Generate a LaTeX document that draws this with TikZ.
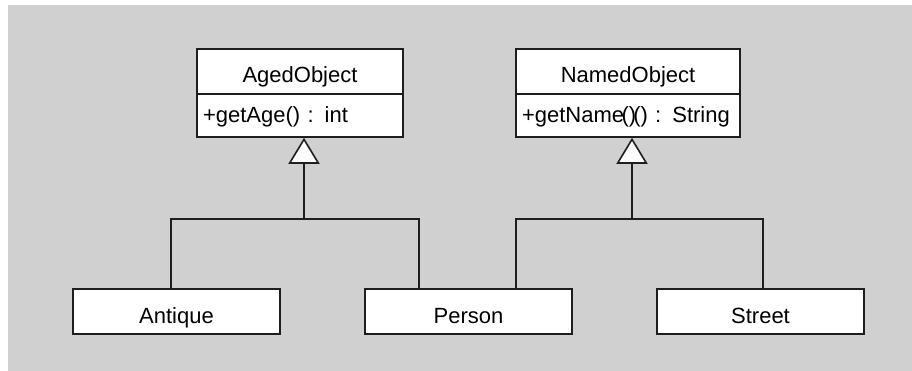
\documentclass[tikz,border=0pt]{standalone}
\usepackage{fontspec}
\setmainfont{Liberation Sans}
\usetikzlibrary{arrows.meta,calc}
\definecolor{canvas}{HTML}{D0D0D0}
\definecolor{ink}{HTML}{1E1E1E}
\tikzset{
  classbox/.style={draw=ink, line width=1.6pt, fill=white, inner sep=0pt,
    font=\fontsize{22}{24}\selectfont},
  classname/.style={classbox, minimum height=45pt, text height=23pt, text depth=0pt},
  classattr/.style={classbox, minimum height=43pt, align=left, inner xsep=6pt,
    text height=16pt, text depth=1pt},
  leafclass/.style={classname, minimum width=207pt},
  link/.style={draw=ink, line width=1.6pt},
  inherit/.style={link, -{Triangle[open, fill=white, length=26pt, width=31pt, line width=1.6pt]}}
}
\begin{document}
\begin{tikzpicture}[x=1pt, y=-1pt]
  % page and canvas
  \fill[white] (0,0) rectangle (912,371);
  \fill[canvas] (8,5) rectangle (912,371);
  \useasboundingbox (0,0) rectangle (912,371);

  % parent classes
  \node[classname, minimum width=206pt] (aged) at (300,71.5) {AgedObject};
  \node[classattr, text width=194pt] (agedattr) at (300,115.5) {+getAge() : int};
  \node[classname, minimum width=224pt] (named) at (628,71.5) {NamedObject};
  \node[classattr, text width=212pt] (namedattr) at (628,115.5)
    {+getName\kern-2.5pt()\kern-3pt() : String};

  % child classes
  \node[leafclass] (antique) at (176.5,311.5) {Antique};
  \node[leafclass] (person) at (468.5,311.5) {Person};
  \node[leafclass] (street) at (760.5,311.5) {Street};

  % junctions of the generalisation trees
  \coordinate (agedjoin) at (304,219);
  \coordinate (namedjoin) at (632,219);

  % branches from the children
  \draw[link] ([xshift=-5.5pt]antique.north) |- (agedjoin);
  \draw[link] ([xshift=-49.5pt]person.north) |- (agedjoin);
  \draw[link] ([xshift=47.5pt]person.north) |- (namedjoin);
  \draw[link] ([xshift=2.5pt]street.north) |- (namedjoin);

  % generalisation arrows
  \draw[inherit] (agedjoin) -- (agedjoin |- agedattr.south);
  \draw[inherit] (namedjoin) -- (namedjoin |- namedattr.south);
\end{tikzpicture}
\end{document}
